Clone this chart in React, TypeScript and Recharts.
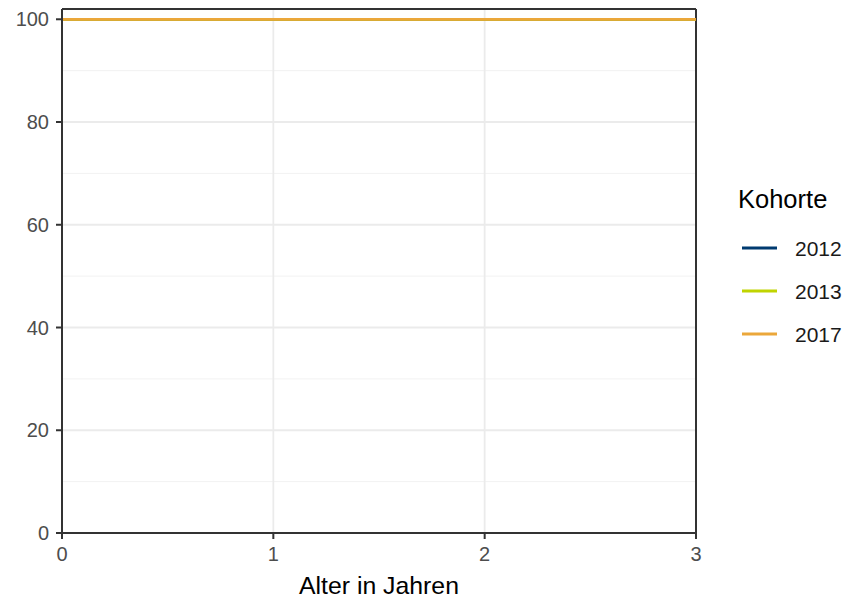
import React from 'react';
import { LineChart, Line, XAxis, YAxis, CartesianGrid, ReferenceLine, Legend } from 'recharts';

const ages = [0, 1, 2, 3];
const kohorte2012 = [100, 100, 100, 100];
const kohorte2013 = [100, 100, 100, 100];
const kohorte2017 = [100, 100, 100, 100];
const seriesNames = ['2012', '2013', '2017'];
const seriesColors = ['#003A70', '#C0D400', '#EBA73A'];
const yTicks = [0, 20, 40, 60, 80, 100];
const yMinor = [10, 30, 50, 70, 90];
const xTicks = [0, 1, 2, 3];
const yMax = 102;

const data = ages.map((a, i) => ({
  age: a,
  s2012: kohorte2012[i],
  s2013: kohorte2013[i],
  s2017: kohorte2017[i],
}));

const FONT = '"Liberation Sans", Arial, Helvetica, sans-serif';

const LegendContent = (props: any) => {
  const payload = props.payload || [];
  return (
    <svg width={117} height={175} style={{ display: 'block', fontFamily: FONT }}>
      <text x={8} y={28} fontSize={25.5} fill="#000">Kohorte</text>
      {payload.map((p: any, i: number) => {
        const cy = 68 + i * 43;
        return (
          <g key={p.value}>
            <line x1={12} x2={47} y1={cy} y2={cy} stroke={p.color} strokeWidth={2.8} />
            <text x={65} y={cy + 7.5} fontSize={21} fill="#1A1A1A">{p.value}</text>
          </g>
        );
      })}
    </svg>
  );
};

export default function App() {
  const keys = ['s2012', 's2013', 's2017'];
  return (
    <div style={{ position: 'absolute', left: 0, top: 0, width: 847, height: 600, background: '#fff', fontFamily: FONT }}>
      <LineChart width={847} height={600} data={data} margin={{ top: 9, right: 151, bottom: 37, left: 12 }}>
        <CartesianGrid horizontalValues={yMinor} vertical={false} stroke="#F2F2F2" strokeWidth={1} />
        <CartesianGrid horizontalValues={yTicks} verticalValues={xTicks} stroke="#EBEBEB" strokeWidth={1.8} />
        <XAxis
          dataKey="age"
          type="number"
          domain={[0, 3]}
          ticks={xTicks}
          allowDataOverflow
          height={30}
          tickSize={6}
          tickMargin={8}
          axisLine={{ stroke: '#333333', strokeWidth: 2 }}
          tickLine={{ stroke: '#333333', strokeWidth: 2 }}
          tick={{ fill: '#4D4D4D', fontSize: 20, fontFamily: FONT }}
          label={{ value: 'Alter in Jahren', position: 'bottom', offset: 13, fill: '#000', fontSize: 24.8, fontFamily: FONT }}
        />
        <YAxis
          type="number"
          domain={[0, yMax]}
          ticks={yTicks}
          allowDataOverflow
          width={50}
          tickSize={6}
          tickMargin={7}
          axisLine={{ stroke: '#333333', strokeWidth: 2 }}
          tickLine={{ stroke: '#333333', strokeWidth: 2 }}
          tick={{ fill: '#4D4D4D', fontSize: 20, fontFamily: FONT }}
        />
        <ReferenceLine y={yMax} stroke="#333333" strokeWidth={2} />
        <ReferenceLine x={3} stroke="#333333" strokeWidth={2} />
        {keys.map((k, i) => (
          <Line
            key={k}
            dataKey={k}
            name={seriesNames[i]}
            stroke={seriesColors[i]}
            strokeWidth={2.8}
            dot={false}
            activeDot={false}
            isAnimationActive={false}
            type="linear"
          />
        ))}
        <Legend
          layout="vertical"
          align="center"
          verticalAlign="middle"
          content={LegendContent}
          wrapperStyle={{ left: 730, top: 180, width: 117, height: 175 }}
        />
      </LineChart>
    </div>
  );
}
